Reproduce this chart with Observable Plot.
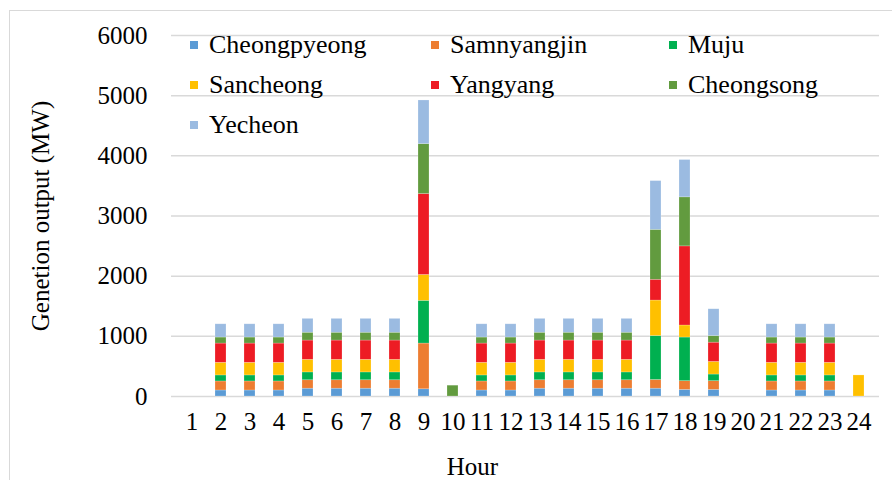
<!DOCTYPE html>
<html>
<head>
<meta charset="utf-8">
<script src="https://cdn.jsdelivr.net/npm/d3@7"></script>
<script src="https://cdn.jsdelivr.net/npm/@observablehq/plot@0.6"></script>
<style>
  html, body { margin: 0; padding: 0; background: #fff; }
  #wrap { position: relative; width: 892px; height: 480px; overflow: hidden; font-family: "Liberation Serif"; }
  #border { position: absolute; left: 9px; top: 10px; width: 900px; height: 500px; border-left: 1.5px solid #d9d9d9; border-top: 1.5px solid #d9d9d9; pointer-events: none; }
  .leg { position: absolute; display: flex; align-items: center; font-family: "Liberation Serif"; font-size: 26px; color: #000; white-space: nowrap; line-height: 1; }
  .leg span { font-family: "Liberation Serif"; }
  .sw { width: 8px; height: 8px; margin-right: 11px; flex: none; }
  svg text { font-family: "Liberation Serif"; }
</style>
</head>
<body>
<div id="wrap"><div id="border"></div></div>
<script>
const hours = d3.range(1, 25);
const stations = ["Cheongpyeong", "Samnyangjin", "Muju", "Sancheong", "Yangyang", "Cheongsong", "Yecheon"];
const colors = ["#5B9BD5", "#ED7D31", "#00B050", "#FFC000", "#ED1C24", "#629B3F", "#9BBBE1"];
const yTicks = [0, 1000, 2000, 3000, 4000, 5000, 6000];

const cheongpyeong = [0,100,100,100,130,130,130,130,120,0,100,100,130,130,130,130,130,110,110,0,100,100,100,0];
const samnyangjin  = [0,150,150,150,140,140,140,140,760,0,150,150,140,140,140,140,145,145,145,0,150,150,150,0];
const muju         = [0,100,100,100,130,130,130,130,710,0,100,100,130,130,130,130,730,725,110,0,100,100,100,0];
const sancheong    = [0,210,210,210,210,210,210,210,430,0,210,210,210,210,210,210,590,200,210,0,210,210,210,350];
const yangyang     = [0,320,320,320,320,320,320,320,1345,0,320,320,320,320,320,320,345,1315,320,0,320,320,320,0];
const cheongsong   = [0,100,100,100,130,130,130,130,830,180,100,100,130,130,130,130,830,815,110,0,100,100,100,0];
const yecheon      = [0,220,220,220,230,230,230,230,725,0,220,220,230,230,230,230,810,620,445,0,220,220,220,0];

const series = [cheongpyeong, samnyangjin, muju, sancheong, yangyang, cheongsong, yecheon];
const rows = [];
stations.forEach((s, i) => hours.forEach((h, j) => rows.push({hour: h, station: s, value: series[i][j]})));

const font = "Liberation Serif";

const chart = Plot.plot({
  width: 892,
  height: 480,
  marginLeft: 171,
  marginRight: 13,
  marginTop: 35,
  marginBottom: 84,
  style: {fontFamily: font, fontSize: "25px", color: "#000", background: "transparent"},
  x: {type: "band", domain: hours, paddingInner: 0.61, paddingOuter: 0.305, label: null},
  y: {domain: [0, 6000], label: null},
  color: {domain: stations, range: colors},
  marks: [
    Plot.ruleY(yTicks, {stroke: "#d9d9d9", strokeWidth: 1.5}),
    Plot.barY(rows, {x: "hour", y: "value", fill: "station", stroke: "#ffffff", strokeOpacity: 0.35, strokeWidth: 0.6}),
    Plot.axisY({ticks: yTicks, tickFormat: d3.format("d"), tickSize: 0, tickPadding: 24, label: null, fontSize: 25, fontFamily: font, fontVariant: "normal"}),
    Plot.axisX({tickSize: 0, tickPadding: 16, label: null, fontSize: 25, fontFamily: font, fontVariant: "normal"}),
    Plot.text(["Genetion output (MW)"], {frameAnchor: "left", textAnchor: "middle", dx: -131, rotate: -90, fontSize: 25, fontFamily: font, fill: "#000"}),
    Plot.text(["Hour"], {frameAnchor: "bottom-left", textAnchor: "middle", dx: 301, dy: 78, fontSize: 25, fontFamily: font, fill: "#000"})
  ]
});

const wrap = document.getElementById("wrap");
wrap.insertBefore(chart, wrap.firstChild);
chart.style.position = "absolute";
chart.style.left = "0px";
chart.style.top = "0px";

const colX = [190, 431, 669];
const rowY = [45, 85, 125];
stations.forEach((s, i) => {
  const d = document.createElement("div");
  d.className = "leg";
  d.style.left = colX[i % 3] + "px";
  d.style.top = (rowY[Math.floor(i / 3)] - 13) + "px";
  d.style.height = "26px";
  const sw = document.createElement("span");
  sw.className = "sw";
  sw.style.background = colors[i];
  const t = document.createElement("span");
  t.textContent = s;
  d.appendChild(sw);
  d.appendChild(t);
  wrap.appendChild(d);
});
</script>
</body>
</html>
